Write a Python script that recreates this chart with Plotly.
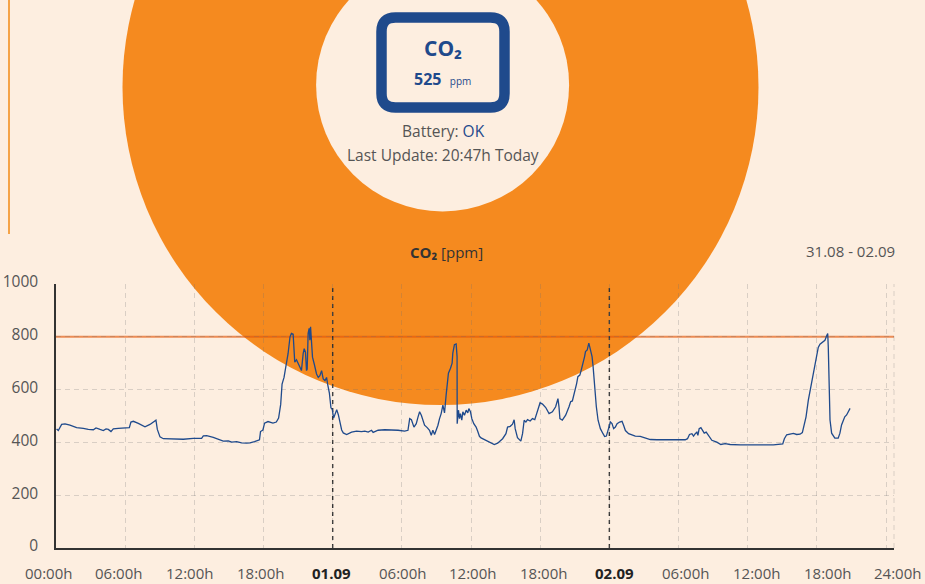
import plotly.graph_objects as go

# ---------------- data ----------------
hours = [0.05, 0.2, 0.49, 0.78, 1.21, 1.79, 2.37, 2.8, 3.24, 3.47, 3.82, 4.1, 4.34, 4.54, 4.77, 4.97,
         5.4, 5.98, 6.36, 6.5, 6.71, 7.14, 7.72, 8.15, 8.59, 8.67, 8.79, 9.02, 9.31, 10.17, 11.04,
         11.91, 12.63, 12.78, 13.07, 13.64, 14.08, 14.51, 14.95, 15.24, 15.67, 16.1, 16.54, 16.83,
         17.22, 17.65, 17.74, 17.95, 18.09, 18.39, 18.82, 19.11, 19.31, 19.49, 19.61, 19.78, 19.93,
         20.13, 20.3, 20.42, 20.57, 20.65, 20.71, 20.86, 21.0, 21.15, 21.29, 21.44, 21.53, 21.64,
         21.73, 21.79, 21.87, 21.96, 22.02, 22.08, 22.16, 22.25, 22.4, 22.6, 22.75, 22.89, 23.04,
         23.18, 23.33, 23.47, 23.56, 23.62, 23.71, 23.85, 23.97, 24.08, 24.2, 24.35, 24.49, 24.64,
         24.78, 24.92, 25.21, 25.64, 26.07, 26.5, 26.79, 27.08, 27.37, 27.51, 27.94, 28.52, 29.09,
         29.67, 30.24, 30.53, 30.68, 30.83, 31.05, 31.25, 31.4, 31.54, 31.69, 31.83, 31.97, 32.2,
         32.4, 32.55, 32.69, 32.84, 32.98, 33.13, 33.27, 33.41, 33.56, 33.7, 33.84, 33.93, 34.04,
         34.22, 34.36, 34.42, 34.56, 34.71, 34.79, 34.8, 34.91, 35.0, 35.08, 35.2, 35.29, 35.43,
         35.58, 35.72, 35.81, 35.95, 36.07, 36.24, 36.44, 36.58, 36.73, 36.87, 37.3, 37.73, 38.02,
         38.31, 38.74, 39.03, 39.17, 39.4, 39.6, 39.74, 39.83, 40.03, 40.32, 40.47, 40.61, 40.76,
         40.9, 41.13, 41.33, 41.53, 41.76, 41.99, 42.2, 42.48, 42.77, 43.06, 43.34, 43.54, 43.63,
         43.71, 43.92, 44.21, 44.5, 44.64, 44.79, 44.93, 45.16, 45.27, 45.44, 45.56, 45.74, 45.85,
         45.93, 46.08, 46.22, 46.37, 46.5, 46.59, 46.7, 46.87, 47.02, 47.22, 47.45, 47.59, 47.74,
         47.94, 48.09, 48.23, 48.37, 48.52, 48.67, 48.89, 49.1, 49.24, 49.39, 49.67, 49.97, 50.25,
         50.68, 51.12, 51.55, 52.13, 53.0, 53.86, 54.58, 54.78, 54.95, 55.16, 55.3, 55.45, 55.59,
         55.68, 55.79, 55.94, 56.11, 56.23, 56.4, 56.6, 56.89, 57.32, 57.67, 58.04, 58.48, 59.35,
         60.21, 61.08, 62.23, 63.04, 63.18, 63.38, 63.67, 63.96, 64.25, 64.54, 64.74, 64.88, 65.06,
         65.26, 65.46, 65.69, 65.92, 66.12, 66.27, 66.5, 66.7, 66.85, 66.94, 66.99, 67.08, 67.14,
         67.28, 67.56, 67.85, 68.0, 68.14, 68.28, 68.42, 68.58, 68.74, 68.88]

co2_ppm = [451, 445, 468, 470, 465, 456, 453, 449, 448, 455, 449, 445, 451, 449, 441, 451,
           453, 454, 456, 477, 480, 472, 459, 468, 479, 484, 449, 421, 414, 414, 412,
           415, 415, 425, 426, 419, 411, 405, 406, 401, 403, 398, 397, 398,
           403, 410, 441, 447, 473, 479, 473, 477, 492, 544, 621, 646, 685,
           736, 800, 813, 810, 762, 704, 713, 700, 685, 672, 736, 755, 742,
           672, 678, 813, 832, 787, 838, 762, 723, 697, 659, 646, 653, 672,
           640, 634, 646, 621, 608, 588, 531, 524, 492, 505, 524, 505, 479,
           447, 436, 430, 439, 443, 441, 443, 439, 446, 438, 446, 448, 448,
           446, 443, 446, 490, 486, 458, 471, 496, 516, 503, 484, 465, 456,
           446, 427, 446, 430, 446, 465, 490, 509, 541, 512, 579, 623, 662,
           681, 700, 738, 770, 773, 725, 471, 522, 490, 509, 484, 516, 503,
           522, 512, 528, 516, 490, 471, 458, 442, 423, 417, 408, 397, 392,
           397, 414, 433, 458, 461, 469, 486, 452, 418, 405, 433, 484, 477,
           486, 481, 490, 486, 516, 550, 545, 532, 509, 516, 535, 566, 535,
           490, 484, 503, 535, 554, 557, 579, 623, 649, 655, 674, 700, 725,
           744, 750, 776, 750, 725, 687, 611, 535, 484, 452, 433, 422, 424,
           452, 477, 471, 452, 458, 471, 477, 480, 464, 445, 433, 427, 424,
           423, 418, 411, 410, 410, 410, 410, 414, 430, 433, 424, 433, 439,
           427, 452, 456, 445, 435, 439, 427, 408, 401, 392, 395, 392, 391,
           391, 391, 391, 394, 414, 429, 433, 434, 430, 431, 437, 460, 497,
           560, 610, 660, 710, 760, 772, 779, 787, 804, 812, 760, 610, 485,
           435, 416, 416, 435, 466, 485, 497, 504, 516, 529]

tick_hours = [0, 6, 12, 18, 24, 30, 36, 42, 48, 54, 60, 66, 72]
tick_labels = ["00:00h", "06:00h", "12:00h", "18:00h", "01.09", "06:00h", "12:00h",
               "18:00h", "02.09", "06:00h", "12:00h", "18:00h", "24:00h"]
day_marks = [24, 48]
y_ticks = [0, 200, 400, 600, 800, 1000]
threshold = 800
current_value = 525
date_range = "31.08 - 02.09"
last_update = "20:47h Today"

# ---------------- style ----------------
BG = "#FDEEE0"
ORANGE = "#F58A1F"
BLUE = "#1F4A8C"
GRAY = "#555555"
FONT = "Open Sans"

W, H = 925, 584
ML, MR, MT, MB = 56, 31, 284, 36
PW, PH = W - ML - MR, H - MT - MB


def px(x):
    return (x - ML) / PW


def py(y):
    return (H - MB - y) / PH


fig = go.Figure()
fig.add_trace(go.Scatter(x=hours, y=co2_ppm, mode="lines",
                         line=dict(color=BLUE, width=1.3), hoverinfo="skip",
                         showlegend=False))

shapes = []
# big orange disc and inner cream disc (behind gridlines)
cx, cy, r = 440.5, 87, 318
shapes.append(dict(type="circle", xref="paper", yref="paper", layer="below",
                   x0=px(cx - r), x1=px(cx + r), y0=py(cy + r), y1=py(cy - r),
                   fillcolor=ORANGE, line=dict(width=0)))
icx, icy, ir = 442.6, 85, 126.5
shapes.append(dict(type="circle", xref="paper", yref="paper", layer="below",
                   x0=px(icx - ir), x1=px(icx + ir), y0=py(icy + ir), y1=py(icy - ir),
                   fillcolor=BG, line=dict(width=0)))
# rounded rectangle around the reading
x0, x1, y0, y1, rr = 381.5, 504.5, 17.5, 107.5, 14
pts = [
    ("M", x0 + rr, y0), ("L", x1 - rr, y0), ("Q", x1, y0, x1, y0 + rr),
    ("L", x1, y1 - rr), ("Q", x1, y1, x1 - rr, y1), ("L", x0 + rr, y1),
    ("Q", x0, y1, x0, y1 - rr), ("L", x0, y0 + rr), ("Q", x0, y0, x0 + rr, y0),
]
path = ""
for p in pts:
    cmd, coords = p[0], p[1:]
    seg = " ".join(f"{px(coords[i]):.5f},{py(coords[i + 1]):.5f}" for i in range(0, len(coords), 2))
    path += f"{cmd}{seg} "
path += "Z"
shapes.append(dict(type="path", xref="paper", yref="paper", path=path, layer="above",
                   line=dict(color=BLUE, width=10.5), fillcolor="rgba(0,0,0,0)"))
# thin orange vertical line at top left
shapes.append(dict(type="line", xref="paper", yref="paper", x0=px(9), x1=px(9),
                   y0=py(0), y1=py(234), line=dict(color="#F5A347", width=2)))
# threshold line
shapes.append(dict(type="line", xref="paper", yref="y", x0=0, x1=1, y0=threshold, y1=threshold,
                   layer="between", line=dict(color="rgba(228,88,10,0.65)", width=2)))
# day separators
for d in day_marks:
    shapes.append(dict(type="line", xref="x", yref="paper", x0=d, x1=d, y0=0, y1=1,
                       layer="between", line=dict(color="#333333", width=1.4, dash="4px,4px")))
# right border dashed
shapes.append(dict(type="line", xref="paper", yref="paper", x0=1, x1=1, y0=0, y1=1,
                   layer="below", line=dict(color="rgba(110,110,110,0.25)", width=1, dash="5px,4px")))

ann = []
ann.append(dict(x=px(443), y=py(48), text="<b>CO₂</b>", font=dict(size=21, color=BLUE, family=FONT)))
ann.append(dict(x=px(442), y=py(79),
                text=f"<b>{current_value}</b>  <span style='font-size:10px'>ppm</span>",
                font=dict(size=16, color=BLUE, family=FONT)))
ann.append(dict(x=px(443), y=py(131),
                text=f"Battery: <span style='color:{BLUE}'>OK</span>",
                font=dict(size=15.5, color=GRAY, family=FONT)))
ann.append(dict(x=px(443), y=py(155), text=f"Last Update: {last_update}",
                font=dict(size=15.5, color=GRAY, family=FONT)))
ann.append(dict(x=px(446), y=py(252), text="<b>CO₂</b> [ppm]",
                font=dict(size=15, color="#333333", family=FONT)))
ann.append(dict(x=px(897), y=py(251), text=date_range, xanchor="right",
                font=dict(size=15, color=GRAY, family=FONT)))
# x tick labels
for k, lab in enumerate(tick_labels):
    bold = "." in lab
    ann.append(dict(x=px(48 + k * 70.83), y=py(573), borderpad=0,
                    text=f"<b>{lab}</b>" if bold else lab,
                    font=dict(size=15, color="#222222" if bold else GRAY, family=FONT)))
for a in ann:
    a.setdefault("xref", "paper")
    a.setdefault("yref", "paper")
    a.setdefault("showarrow", False)
    a.setdefault("xanchor", "center")
    a.setdefault("yanchor", "middle")

fig.update_layout(
    width=W, height=H,
    margin=dict(l=ML, r=MR, t=MT, b=MB, pad=0, autoexpand=False),
    paper_bgcolor=BG, plot_bgcolor="rgba(0,0,0,0)",
    shapes=shapes, annotations=ann,
    font=dict(family=FONT, color=GRAY, size=15),
    xaxis=dict(range=[0, 72.69], tickvals=tick_hours, showticklabels=False, automargin=False,
               showgrid=True, gridcolor="rgba(110,110,110,0.25)", griddash="5px,4px",
               gridwidth=1, zeroline=False, showline=True, linecolor="#333333", linewidth=1.5,
               ticks="", fixedrange=True),
    yaxis=dict(range=[0, 1000], tickvals=y_ticks, showgrid=True, automargin=False,
               gridcolor="rgba(110,110,110,0.25)", griddash="5px,4px", gridwidth=1,
               zeroline=False, showline=True, linecolor="#333333", linewidth=1.5,
               ticks="", ticklabelstandoff=13, ticklabelshift=-2,
               tickfont=dict(size=15.5, color=GRAY, family=FONT),
               fixedrange=True),
)

fig.write_html("out.html", config={"displayModeBar": False},
               post_script="document.body.style.margin='0';document.body.style.overflow='hidden';")
